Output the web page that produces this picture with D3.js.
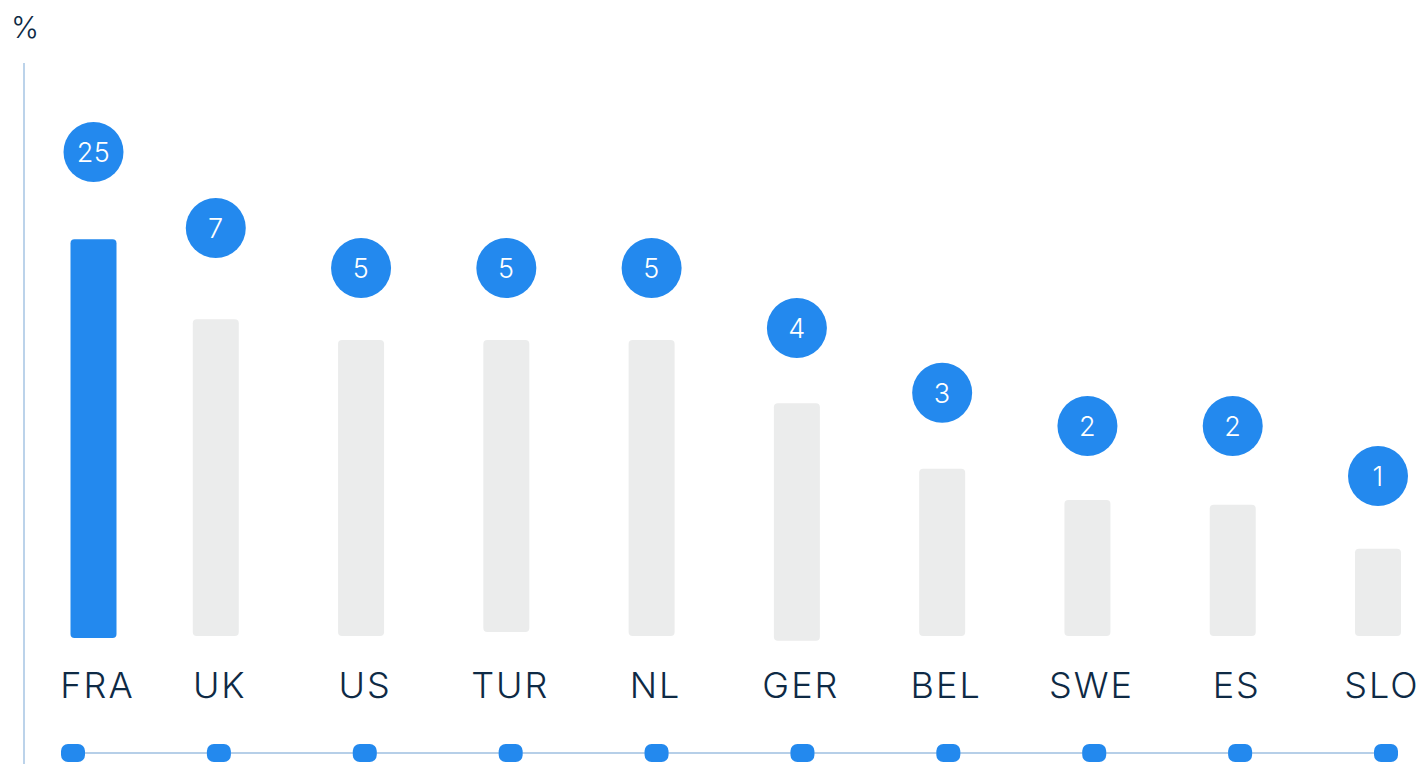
<!DOCTYPE html>
<html>
<head>
<meta charset="utf-8">
<script src="https://cdn.jsdelivr.net/npm/d3@7"></script>
<style>
  body { margin: 0; background: #fff; }
  svg { display: block; font-family: Inter, "Noto Sans", sans-serif; }
</style>
</head>
<body>
<div id="chart"></div>
<script>
// Data
var countries = ['FRA', 'UK', 'US', 'TUR', 'NL', 'GER', 'BEL', 'SWE', 'ES', 'SLO'];
var shares = [25, 7, 5, 5, 5, 4, 3, 2, 2, 1];
// decorative bar extents and bubble level, on a 0-100 visual scale
var barLow = [-0.5, 0, 0, 1, 0, -1.2, 0, 0, 0, 0];
var barHigh = [99.2, 79.2, 74, 74, 74, 58.2, 41.8, 34, 32.8, 21.8];
var bubbleLevel = [121, 102, 92, 92, 92, 77, 60.8, 52.5, 52.5, 40];
var highlight = 'FRA';

var width = 1422,
  height = 764,
  barWidth = 46,
  bubbleR = 30,
  firstShift = 23;

var rows = countries.map(function (c, i) {
  return { name: c, value: shares[i], low: barLow[i], high: barHigh[i], bubble: bubbleLevel[i] };
});

var svg = d3
  .select('#chart')
  .append('svg')
  .attr('width', width)
  .attr('height', height);

// column positions
var x = d3.scalePoint().domain(countries).range([70.5, 1378]);
var xDot = d3.scalePoint().domain(countries).range([73, 1386]);
var y = d3.scaleLinear().domain([0, 100]).range([636, 236]);

function cx(d) {
  return x(d.name) + (d.name === highlight ? firstShift : 0);
}

// y axis line and unit
svg
  .append('line')
  .attr('x1', 24)
  .attr('x2', 24)
  .attr('y1', 63)
  .attr('y2', height)
  .style('stroke', '#bcd3ea')
  .style('stroke-width', 2);

svg
  .append('text')
  .attr('x', 25)
  .attr('y', 38)
  .attr('text-anchor', 'middle')
  .style('font-size', '30px')
  .style('font-weight', 300)
  .style('fill', '#0e2a45')
  .text('%');

// bars
svg
  .selectAll('rect.bar')
  .data(rows)
  .enter()
  .append('rect')
  .attr('class', 'bar')
  .attr('x', function (d) { return cx(d) - barWidth / 2; })
  .attr('y', function (d) { return y(d.high); })
  .attr('width', barWidth)
  .attr('height', function (d) { return y(d.low) - y(d.high); })
  .attr('rx', 4)
  .attr('fill', function (d) { return d.name === highlight ? '#2389ee' : '#ebecec'; });

// value bubbles
var bubble = svg
  .selectAll('g.bubble')
  .data(rows)
  .enter()
  .append('g')
  .attr('class', 'bubble')
  .attr('transform', function (d) {
    return 'translate(' + cx(d) + ',' + y(d.bubble) + ')';
  });

bubble.append('circle').attr('r', bubbleR).attr('fill', '#2389ee');

bubble
  .append('text')
  .attr('text-anchor', 'middle')
  .attr('dy', '0.36em')
  .style('font-size', '27px')
  .style('font-weight', 300)
  .style('letter-spacing', '0.5px')
  .style('fill', '#fff')
  .text(function (d) { return d.value; });

// category labels
svg
  .selectAll('text.label')
  .data(rows)
  .enter()
  .append('text')
  .attr('class', 'label')
  .attr('x', function (d) { return cx(d) + 4; })
  .attr('y', 698)
  .attr('text-anchor', 'middle')
  .style('font-size', '36px')
  .style('font-weight', 300)
  .style('letter-spacing', '2px')
  .style('fill', '#0e2a45')
  .text(function (d) { return d.name; });

// bottom track with dots
svg
  .append('line')
  .attr('x1', xDot(countries[0]))
  .attr('x2', xDot(countries[countries.length - 1]))
  .attr('y1', 753)
  .attr('y2', 753)
  .style('stroke', '#b6cfe8')
  .style('stroke-width', 2);

svg
  .selectAll('rect.dot')
  .data(rows)
  .enter()
  .append('rect')
  .attr('class', 'dot')
  .attr('x', function (d) { return xDot(d.name) - 12; })
  .attr('y', 744)
  .attr('width', 24)
  .attr('height', 18)
  .attr('rx', 7)
  .attr('fill', '#2389ee');
</script>
</body>
</html>
